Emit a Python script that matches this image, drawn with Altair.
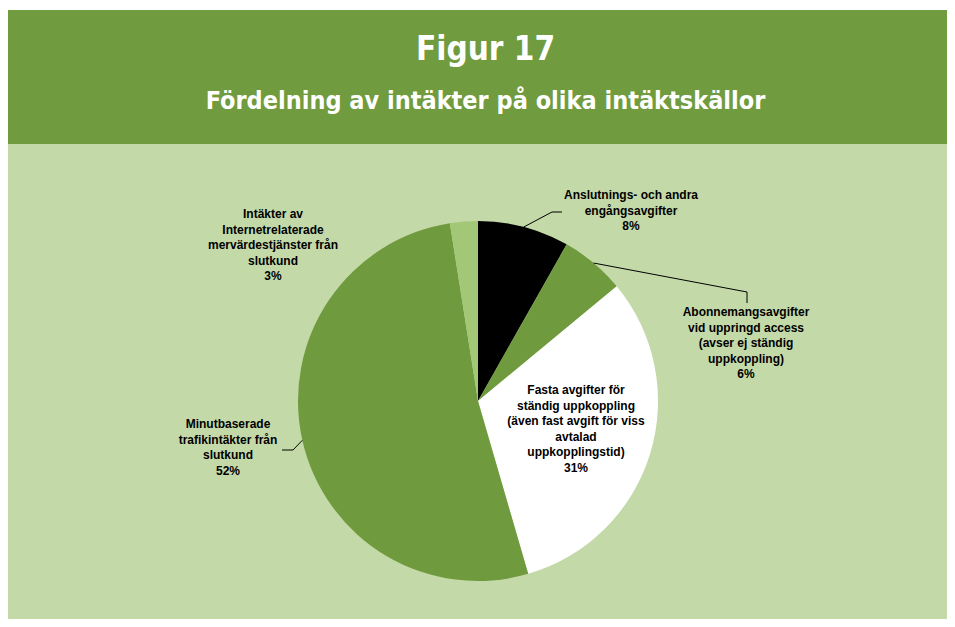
import math
import altair as alt
import pandas as pd

# ---------------- data ----------------
categories = [
    "Anslutnings- och andra engångsavgifter",
    "Abonnemangsavgifter vid uppringd access (avser ej ständig uppkoppling)",
    "Fasta avgifter för ständig uppkoppling (även fast avgift för viss avtalad uppkopplingstid)",
    "Minutbaserade trafikintäkter från slutkund",
    "Intäkter av Internetrelaterade mervärdestjänster från slutkund",
]
values = [8.2, 5.8, 31.5, 52.0, 2.5]
pct_labels = ["8%", "6%", "31%", "52%", "3%"]
label_lines = [
    ["Anslutnings- och andra", "engångsavgifter"],
    ["Abonnemangsavgifter", "vid uppringd access", "(avser ej ständig", "uppkoppling)"],
    ["Fasta avgifter för", "ständig uppkoppling", "(även fast avgift för viss", "avtalad", "uppkopplingstid)"],
    ["Minutbaserade", "trafikintäkter från", "slutkund"],
    ["Intäkter av", "Internetrelaterade", "mervärdestjänster från", "slutkund"],
]
slice_colors = ["#000000", "#6f9a3d", "#ffffff", "#6f9a3d", "#a2c877"]

title_text = "Figur 17"
subtitle_text = "Fördelning av intäkter på olika intäktskällor"

# ---------------- layout ----------------
W, H = 939, 611
CX, CY, R = 470, 393, 180
HEADER_TOP, HEADER_BOTTOM = 2, 136
BG = "#c4d9a8"
HEADER = "#709b3e"

# label anchor (centre x, top y) per slice
label_pos = [(623, 182), (738, 299), (568, 377), (220, 411), (265, 201)]
# leader lines: elbow and end points, start computed from slice mid-angle
leaders = {
    0: [(544, 204), (554, 204)],
    1: [(739, 284), (739, 295)],
    3: [(285, 442), (274, 442)],
}

total = sum(values)
pie_df = pd.DataFrame({"cat": categories, "value": values, "order": list(range(len(values)))})

lab_df = pd.DataFrame({
    "cat": categories,
    "text": ["\n".join(l + [p]) for l, p in zip(label_lines, pct_labels)],
    "lx": [p[0] for p in label_pos],
    "ly": [p[1] for p in label_pos],
})

rows = []
cum = 0.0
for i, v in enumerate(values):
    mid = (cum + v / 2) / total * 2 * math.pi
    cum += v
    if i in leaders:
        sx = CX + R * math.sin(mid)
        sy = CY - R * math.cos(mid)
        pts = [(sx, sy)] + leaders[i]
        for k, (x, y) in enumerate(pts):
            rows.append({"id": i, "k": k, "x": x, "y": y})
lead_df = pd.DataFrame(rows)

one = pd.DataFrame({"a": [0]})

white_top = alt.Chart(one).mark_rect(color="white").encode(
    x=alt.value(0), x2=alt.value(W), y=alt.value(0), y2=alt.value(HEADER_TOP)
)
header = alt.Chart(one).mark_rect(color=HEADER).encode(
    x=alt.value(0), x2=alt.value(W), y=alt.value(HEADER_TOP), y2=alt.value(HEADER_BOTTOM)
)
title = alt.Chart(one).mark_text(
    text=title_text, font="DejaVu Sans Condensed", fontWeight="bold", fontSize=33,
    color="white", align="center", baseline="alphabetic"
).encode(x=alt.value(W / 2 + 8), y=alt.value(52))
subtitle = alt.Chart(one).mark_text(
    text=subtitle_text, font="DejaVu Sans Condensed", fontWeight="bold", fontSize=25,
    color="white", align="center", baseline="alphabetic"
).encode(x=alt.value(W / 2 + 8), y=alt.value(101))

pie = alt.Chart(pie_df).mark_arc(outerRadius=R, stroke=None).encode(
    theta=alt.Theta("value:Q", stack=True),
    order=alt.Order("order:Q"),
    color=alt.Color("cat:N", scale=alt.Scale(domain=categories, range=slice_colors), legend=None),
    x=alt.value(CX), y=alt.value(CY),
)

leader_lines = alt.Chart(lead_df).mark_line(color="black", strokeWidth=1).encode(
    x=alt.X("x:Q", scale=None, axis=None),
    y=alt.Y("y:Q", scale=None, axis=None),
    detail="id:N",
    order="k:Q",
)

labels = alt.Chart(lab_df).mark_text(
    font="Liberation Sans", fontWeight="bold", fontSize=12, color="black",
    align="center", baseline="top", lineBreak="\n", lineHeight=15.6
).encode(
    x=alt.X("lx:Q", scale=None, axis=None),
    y=alt.Y("ly:Q", scale=None, axis=None),
    text="text:N",
)

chart = alt.layer(white_top, header, title, subtitle, pie, leader_lines, labels).properties(
    width=W, height=H, autosize=alt.AutoSizeParams(type="none"), padding=0,
    background=BG,
).configure_view(stroke=None)

chart.save("out.html", embed_options={"renderer": "svg", "actions": False})
